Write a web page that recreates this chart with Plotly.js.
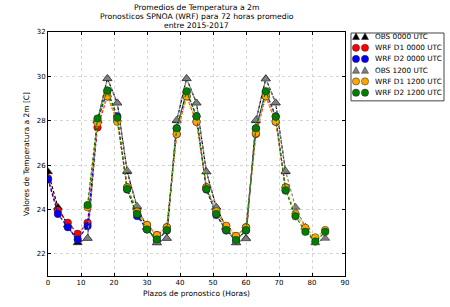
<!DOCTYPE html>
<html><head><meta charset="utf-8">
<script src="https://cdn.plot.ly/plotly-3.0.1.min.js"></script>
<style>html,body{margin:0;padding:0;background:#fff}#chart{width:450px;height:307px}</style>
</head><body><div id="chart"></div>
<script>
const hours00 = [0,3,6,9,12,15,18,21,24,27,30,33,36,39,42,45,48,51,54,57,60,63,66,69,72];
const hours12 = [12,15,18,21,24,27,30,33,36,39,42,45,48,51,54,57,60,63,66,69,72,75,78,81,84];
const obs00 = [25.7,24.1,23.3,22.5,22.7,28.0,29.9,28.8,25.7,24.1,23.2,22.5,22.7,28.0,29.9,28.8,25.7,24.1,23.2,22.5,22.7,28.0,29.9,28.8,25.7];
const wrfD1_00 = [25.4,23.95,23.4,22.9,23.4,27.7,29.1,28.0,25.0,23.9,23.3,22.85,23.2,27.4,29.1,27.95,25.0,23.9,23.25,22.8,23.2,27.4,29.1,27.95,25.0];
const wrfD2_00 = [25.35,23.8,23.2,22.65,23.25,28.0,29.35,28.2,24.9,23.7,23.1,22.6,23.05,27.65,29.3,28.2,24.9,23.75,23.05,22.6,23.05,27.65,29.3,28.2,24.85];
const obs12 = [22.7,28.0,29.9,28.8,25.75,24.15,23.2,22.5,22.7,28.03,29.9,28.8,25.7,24.1,23.2,22.5,22.68,28.03,29.88,28.81,25.73,24.1,23.2,22.5,22.7];
const wrfD1_12 = [24.1,27.9,29.1,27.95,25.0,23.9,23.3,22.84,23.2,27.4,29.1,27.95,25.0,23.92,23.26,22.8,23.19,27.44,29.1,27.96,24.99,23.81,23.17,22.74,23.07];
const wrfD2_12 = [24.2,28.1,29.36,28.13,24.92,23.8,23.1,22.65,23.07,27.66,29.33,28.2,24.92,23.8,23.07,22.62,23.07,27.66,29.33,28.18,24.87,23.69,22.99,22.55,22.99];
const names = ['OBS 0000 UTC','WRF D1 0000 UTC','WRF D2 0000 UTC','OBS 1200 UTC','WRF D1 1200 UTC','WRF D2 1200 UTC'];
const colors = ['#000000','#ff0000','#0000ff','#808080','#ffa500','#008000'];
const symbols = ['triangle-up','circle','circle','triangle-up','circle','circle'];
const titleLines = ['Promedios de Temperatura a 2m','Pronosticos SPNOA (WRF) para 72 horas promedio','entre 2015-2017'];
const yTicks = [22,24,26,28,30,32];
const xTicks = [0,10,20,30,40,50,60,70,80,90];

const W = 450, H = 307;
const M = {l: 48, r: 105, t: 32, b: 30.5};
const PW = W - M.l - M.r, PH = H - M.t - M.b;
const px2x = px => (px - M.l) / PW;
const py2y = py => (H - M.b - py) / PH;

function tr(x, y, i) {
  return {x: x, y: y, name: names[i], type: 'scatter', mode: 'lines+markers', showlegend: false,
    line: {color: colors[i], width: 1.2, dash: '3px,2px'},
    marker: {color: colors[i], symbol: symbols[i], size: symbols[i] === 'triangle-up' ? 8 : 7.5,
             line: {color: '#222', width: 0.5}}};
}
const data = [
  tr(hours00, obs00, 0), tr(hours00, wrfD1_00, 1), tr(hours00, wrfD2_00, 2),
  tr(hours12, obs12, 3), tr(hours12, wrfD1_12, 4), tr(hours12, wrfD2_12, 5)
];

// custom compact legend (matplotlib style, two markers per entry)
const shapes = [{type: 'rect', xref: 'paper', yref: 'paper', x0: px2x(351), x1: px2x(444), y0: py2y(101), y1: py2y(33),
  line: {color: '#444', width: 1}, fillcolor: '#fff', layer: 'above'}];
const annotations = [];
const rowY = [36.5, 47.8, 59, 70.3, 81.5, 92.8];
names.forEach((n, i) => {
  const yc = py2y(rowY[i]);
  [356, 365].forEach(mx => {
    const base = {xref: 'paper', yref: 'paper', xsizemode: 'pixel', ysizemode: 'pixel', xanchor: px2x(mx), yanchor: yc,
      fillcolor: colors[i], line: {color: '#222', width: 0.5}, layer: 'above'};
    if (symbols[i] === 'circle') {
      shapes.push(Object.assign({type: 'circle', x0: -3.6, x1: 3.6, y0: -3.6, y1: 3.6}, base));
    } else {
      shapes.push(Object.assign({type: 'path', path: 'M-3.5,-3 L3.5,-3 L0,3.5 Z'}, base));
    }
  });
  annotations.push({xref: 'paper', yref: 'paper', x: px2x(372.5), y: yc, xanchor: 'left', yanchor: 'middle',
    text: n, showarrow: false, font: {family: 'DejaVu Sans', size: 7.3, color: '#000'}});
});
const titleY = [7.5, 16.5, 25.5];
titleLines.forEach((t, i) => {
  annotations.push({xref: 'paper', yref: 'paper', x: 0.5, y: py2y(titleY[i]), xanchor: 'center', yanchor: 'middle',
    text: t, showarrow: false, font: {family: 'DejaVu Sans', size: 7.7, color: '#000'}});
});

const axBase = {showline: true, linecolor: '#000', linewidth: 1, mirror: 'ticks', ticks: 'inside', ticklen: 3,
  tickcolor: '#000', showgrid: true, gridcolor: '#d6d6d6', griddash: 'dot', gridwidth: 1, zeroline: false,
  tickfont: {family: 'DejaVu Sans', size: 7, color: '#000'}};
const layout = {
  width: W, height: H, margin: M,
  paper_bgcolor: '#fff', plot_bgcolor: '#fff',
  font: {family: 'DejaVu Sans', color: '#000'},
  xaxis: Object.assign({}, axBase, {range: [0, 90], tickvals: xTicks,
          title: {text: 'Plazos de pronostico (Horas)', font: {family: 'DejaVu Sans', size: 7.5}, standoff: 4}}),
  yaxis: Object.assign({}, axBase, {range: [21, 32], tickvals: yTicks,
          title: {text: 'Valores de Temperatura a 2m [C]', font: {family: 'DejaVu Sans', size: 7.5}, standoff: 6}}),
  showlegend: false,
  shapes: shapes,
  annotations: annotations
};
Plotly.newPlot('chart', data, layout, {displayModeBar: false, staticPlot: true});
</script></body></html>
